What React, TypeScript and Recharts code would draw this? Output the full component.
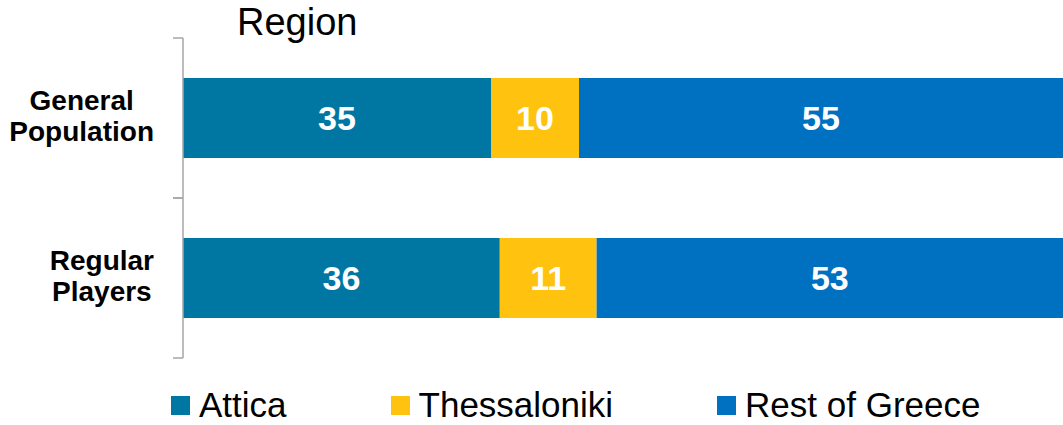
import { BarChart, Bar, XAxis, YAxis, Legend, LabelList } from 'recharts';

const categories = ['General Population', 'Regular Players'];
const attica = [35, 36];
const thessaloniki = [10, 11];
const restOfGreece = [55, 53];

const SERIES = [
  { key: 'attica', name: 'Attica', color: '#0077A3' },
  { key: 'thessaloniki', name: 'Thessaloniki', color: '#FFC20E' },
  { key: 'rest', name: 'Rest of Greece', color: '#0070C0' },
];

const data = categories.map((c, i) => ({
  category: c,
  attica: attica[i],
  thessaloniki: thessaloniki[i],
  rest: restOfGreece[i],
}));

const FONT = '"Liberation Sans", Arial, sans-serif';
const TICK_FONT_SIZE = 28;

// measure text so the two lines can be centred on each other, right-aligned as a block
function textWidth(s: string) {
  if (typeof document === 'undefined') return s.length * TICK_FONT_SIZE * 0.6;
  const ctx = document.createElement('canvas').getContext('2d');
  if (!ctx) return s.length * TICK_FONT_SIZE * 0.6;
  ctx.font = `bold ${TICK_FONT_SIZE}px ${FONT}`;
  return ctx.measureText(s).width;
}

function CategoryTick(props: any) {
  const { x, y, payload } = props;
  const half = payload?.offset ?? 80;
  const words = String(payload.value).split(' ');
  const maxW = Math.max(...words.map(textWidth));
  const cx = x - 29 - maxW / 2;
  return (
    <g>
      <line x1={x - 10} x2={x} y1={y - half} y2={y - half} stroke="#a6a6a6" strokeWidth={1.5} />
      <line x1={x - 10} x2={x} y1={y + half} y2={y + half} stroke="#a6a6a6" strokeWidth={1.5} />
      <text
        x={cx}
        y={y}
        textAnchor="middle"
        fontFamily={FONT}
        fontWeight="bold"
        fontSize={TICK_FONT_SIZE}
        fill="#000"
      >
        {words.map((w, i) => (
          <tspan key={i} x={cx} dy={i === 0 ? -8 : 31}>
            {w}
          </tspan>
        ))}
      </text>
    </g>
  );
}

function LegendContent() {
  return (
    <div style={{ display: 'flex', alignItems: 'center', paddingLeft: 171, gap: 104, fontFamily: FONT, fontSize: 35, color: '#000', height: 38 }}>
      {SERIES.map((s) => (
        <div key={s.key} style={{ display: 'flex', alignItems: 'center' }}>
          <span style={{ display: 'inline-block', width: 19, height: 19, background: s.color, marginRight: 9 }} />
          <span>{s.name}</span>
        </div>
      ))}
    </div>
  );
}

export default function App() {
  return (
    <div style={{ position: 'absolute', left: 0, top: 0, width: 1063, height: 425, background: '#fff' }}>
      <div style={{ position: 'absolute', left: 237, top: 1, fontFamily: FONT, fontSize: 38, color: '#000' }}>
        Region
      </div>
      <BarChart
        width={1063}
        height={425}
        data={data}
        layout="vertical"
        margin={{ top: 38, right: 0, bottom: 29, left: 0 }}
        barCategoryGap="25%"
      >
        <XAxis type="number" domain={[0, 100]} hide />
        <YAxis
          type="category"
          dataKey="category"
          width={183}
          tickLine={false}
          tickSize={0}
          tickMargin={0}
          axisLine={{ stroke: '#a6a6a6', strokeWidth: 1.5 }}
          tick={<CategoryTick />}
          interval={0}
        />
        <Legend
          verticalAlign="bottom"
          content={<LegendContent />}
          wrapperStyle={{ position: 'absolute', left: 0, top: 386, width: 1063 }}
        />
        {SERIES.map((s) => (
          <Bar key={s.key} dataKey={s.key} name={s.name} stackId="a" fill={s.color} isAnimationActive={false}>
            <LabelList
              dataKey={s.key}
              position="center"
              fill="#fff"
              fontSize={34}
              fontWeight="bold"
              fontFamily={FONT}
            />
          </Bar>
        ))}
      </BarChart>
    </div>
  );
}
